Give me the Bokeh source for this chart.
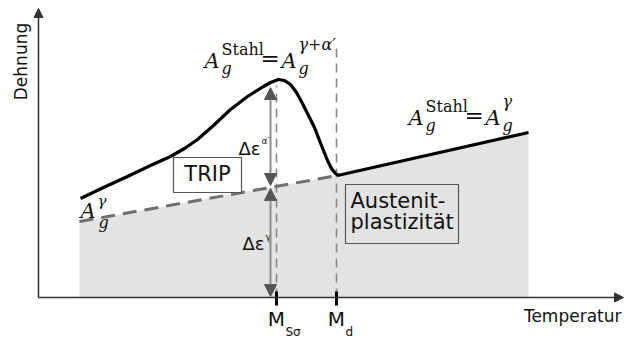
import numpy as np
from bokeh.plotting import figure
from bokeh.models import Range1d, Arrow, NormalHead
from bokeh.core.properties import value
from bokeh.embed import file_html
from bokeh.resources import INLINE

# Schematic units: temperature T along x, elongation (strain) along y
# Uniform elongation of the steel, A_g^Stahl
curve_T = [42, 65, 89, 112, 132, 146, 159, 175, 192, 209, 225, 232, 240,
           246, 252, 258, 264, 270, 276, 281, 285, 289, 293, 297, 300]
curve_eps = [99, 110, 121, 132, 141, 149, 158, 172, 188, 201, 211, 215, 218,
             217, 213, 205, 194, 182, 170, 157, 147, 137, 129, 124, 122]

# Uniform elongation of the austenite, A_g^gamma
aust_T = [41, 299, 490]
aust_eps = [76, 122, 165]

# Characteristic temperatures
T_Ms = 238   # M_S sigma
T_Md = 298   # M_d
Md_line_top = 249

# Axis extents
T_max = 585
eps_max = 289

SANS = "DejaVu Sans"
SERIF = "DejaVu Serif"

p = figure(width=624, height=338, x_range=Range1d(-38, 586), y_range=Range1d(-41, 297),
           output_backend="svg", toolbar_location=None,
           x_axis_type=None, y_axis_type=None, min_border=0)
p.grid.grid_line_color = None
p.outline_line_color = None
p.background_fill_color = "white"
p.border_fill_color = "white"

# Austenite region (grey area under A_g^gamma)
p.varea(x=aust_T, y1=[0] * len(aust_T), y2=aust_eps, fill_color="#e3e3e3")

# Vertical guide lines at M_S sigma and M_d
peak_eps = max(curve_eps)
p.segment(x0=[T_Ms], y0=[0], x1=[T_Ms], y1=[peak_eps - 6],
          line_color="#8a8a8a", line_width=1.6, line_dash="9 6")
p.segment(x0=[T_Md], y0=[0], x1=[T_Md], y1=[Md_line_top],
          line_color="#8a8a8a", line_width=1.6, line_dash="9 6")

# A_g^gamma: dashed below M_d, solid above
p.line(aust_T[:2], aust_eps[:2], line_color="#707070", line_width=3, line_dash="14 8")
p.line(aust_T[1:], aust_eps[1:], line_color="black", line_width=3.2)

# A_g^Stahl
p.line(curve_T, curve_eps, line_color="black", line_width=3.2, line_join="round")

# Coordinate axes
p.add_layout(Arrow(x_start=0, y_start=0, x_end=0, y_end=eps_max,
                   line_color="#333", line_width=1.5,
                   end=NormalHead(size=9, fill_color="#333", line_color="#333")))
p.add_layout(Arrow(x_start=0, y_start=0, x_end=T_max, y_end=0,
                   line_color="#333", line_width=1.5,
                   end=NormalHead(size=9, fill_color="#333", line_color="#333")))

# Ticks at M_S sigma and M_d
p.segment(x0=[T_Ms, T_Md], y0=[6, 6], x1=[T_Ms, T_Md], y1=[-8, -8],
          line_color="black", line_width=3)

# Elongation contributions at M_S sigma
x_arr = T_Ms - 6
eps_dash = float(np.interp(x_arr, aust_T, aust_eps))
eps_top = float(np.interp(x_arr, curve_T, curve_eps))


def head():
    return NormalHead(size=12, fill_color="#555", line_color="#555")


p.add_layout(Arrow(x_start=x_arr, y_start=eps_dash + 2, x_end=x_arr, y_end=eps_top - 5,
                   line_color="#8c8c8c", line_width=2, start=head(), end=head()))
p.add_layout(Arrow(x_start=x_arr, y_start=1, x_end=x_arr, y_end=eps_dash - 1,
                   line_color="#8c8c8c", line_width=2, start=head(), end=head()))

# Label boxes
p.quad(left=[135], right=[203], bottom=[105], top=[140],
       fill_color="white", line_color="#555", line_width=1.2)
p.quad(left=[307], right=[420], bottom=[54], top=[113],
       fill_color="#e3e3e3", line_color="#555", line_width=1.2)


def put(x, y, s, size, font=SANS, style="normal", align="left",
        color="#111", angle=0.0):
    p.text(x=[x], y=[y], text=[s], text_font=value(font),
           text_font_size=value(f"{size}px"), text_font_style=style,
           text_align=align, text_baseline="middle", text_color=color, angle=angle)


def formula(x0, y0, sup):
    # A_g^Stahl = A_g^sup
    put(x0, y0, "A", 21, SERIF, "italic")
    put(x0 + 17, y0 + 11, "Stahl", 16, SERIF)
    put(x0 + 17, y0 - 8, "g", 16, SERIF, "italic")
    put(x0 + 56, y0 + 3, "=", 23, SERIF)
    put(x0 + 77, y0, "A", 21, SERIF, "italic")
    put(x0 + 94, y0 + 16, sup, 16, SERIF, "italic")
    put(x0 + 94, y0 - 8, "g", 16, SERIF, "italic")


formula(166, 237, "γ+α′")
formula(370, 180, "γ")

# A_g^gamma at the left end
put(42, 87, "A", 21, SERIF, "italic")
put(59, 97, "γ", 15, SERIF, "italic")
put(60, 75, "g", 16, SERIF, "italic")

# Delta epsilon labels
put(222, 149, "Δε", 18, align="right")
put(223, 157, "α′", 9)
put(226, 54, "Δε", 18, align="right")
put(227, 61, "γ", 9)

# Box texts
put(169, 124, "TRIP", 21, align="center")
put(312, 97, "Austenit-", 21)
put(312, 76, "plastizität", 21)

# Axis titles
put(583, -18, "Temperatur", 17, align="right")
put(-18, 236, "Dehnung", 17, align="center", angle=np.pi / 2)

# Temperature markers
put(T_Ms, -21, "M", 20, align="center")
put(T_Ms + 9, -34, "Sσ", 12)
put(T_Md, -21, "M", 20, align="center")
put(T_Md + 9, -34, "d", 12)

open("out.html", "w").write(file_html(p, INLINE))
